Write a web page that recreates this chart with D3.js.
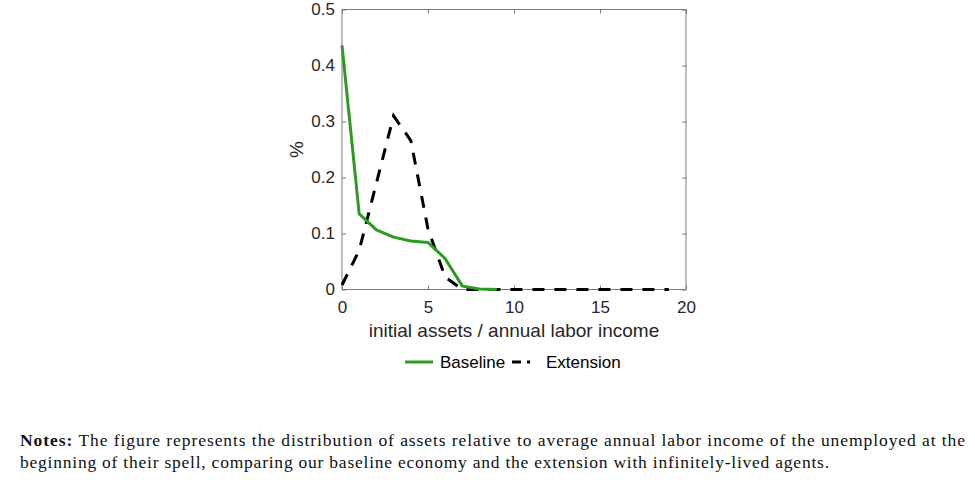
<!DOCTYPE html>
<html>
<head>
<meta charset="utf-8">
<script src="https://cdn.jsdelivr.net/npm/d3@7"></script>
<style>
    body { margin: 0; background: #fff; }
    svg { display: block; }
    .axis text { font-family: "Liberation Sans", Arial, sans-serif; font-size: 17px; fill: #262626; }
    .axis line { stroke: #7a7a7a; }
</style>
</head>
<body>
<svg id="chart" width="975" height="485"></svg>
<script>
// values
const baselineX = [0, 1, 2, 3, 4, 5, 6, 7, 8, 9]
const baselineY = [0.436, 0.135, 0.1065, 0.0935, 0.0865, 0.084, 0.055, 0.006, 0.001, 0]
const extensionX = [0, 1, 2, 3, 4, 5, 6, 7, 8, 9, 10, 11, 12, 13, 14, 15, 16, 17, 18, 19]
const extensionY = [0.008, 0.07, 0.19, 0.31, 0.266, 0.108, 0.022, 0, 0, 0, 0, 0, 0, 0, 0, 0, 0, 0, 0, 0]
const xTicks = [0, 5, 10, 15, 20]
const yTicks = [0, 0.1, 0.2, 0.3, 0.4, 0.5]
const seriesNames = ["Baseline", "Extension"]
const notesLines = [
    "The figure represents the distribution of assets relative to average annual labor income of the unemployed at the",
    "beginning of their spell, comparing our baseline economy and the extension with infinitely-lived agents."
]

const svg = d3.select("#chart")
const box = { left: 342, top: 9.5, right: 686, bottom: 289.5 }
const green = "#2e9a24"

const scX = d3.scaleLinear().domain([0, 20]).range([box.left, box.right])
const scY = d3.scaleLinear().domain([0, 0.5]).range([box.bottom, box.top])

// Axis logic, MATLAB style box with inward ticks on all sides
svg.append("g").attr("class", "axis")
    .attr("transform", `translate(0,${box.bottom})`)
    .call(d3.axisBottom(scX).tickValues(xTicks).tickSize(-4).tickSizeOuter(0).tickPadding(11).tickFormat(d3.format("d")))
svg.append("g").attr("class", "axis")
    .attr("transform", `translate(0,${box.top})`)
    .call(d3.axisTop(scX).tickValues(xTicks).tickSize(-4).tickSizeOuter(0).tickFormat(""))
svg.append("g").attr("class", "axis")
    .attr("transform", `translate(${box.left},0)`)
    .call(d3.axisLeft(scY).tickValues(yTicks).tickSize(-4).tickSizeOuter(0).tickPadding(7).tickFormat(d => d == 0 ? "0" : d3.format(".1f")(d)))
svg.append("g").attr("class", "axis")
    .attr("transform", `translate(${box.right},0)`)
    .call(d3.axisRight(scY).tickValues(yTicks).tickSize(-4).tickSizeOuter(0).tickFormat(""))
svg.selectAll(".axis .domain").remove()

svg.append("rect")
    .attr("x", box.left).attr("y", box.top)
    .attr("width", box.right - box.left).attr("height", box.bottom - box.top)
    .attr("fill", "none").attr("stroke", "#7a7a7a").attr("stroke-width", 1)

// Line logic
const lnMkr = d3.line().x(d => scX(d[0])).y(d => scY(d[1]))
const plot = svg.append("g")

plot.append("path")
    .datum(extensionX.map((x, i) => [x, extensionY[i]]))
    .attr("fill", "none").attr("stroke", "#000").attr("stroke-width", 3)
    .attr("stroke-dasharray", "12,10")
    .attr("d", lnMkr)

plot.append("path")
    .datum(baselineX.map((x, i) => [x, baselineY[i]]))
    .attr("fill", "none").attr("stroke", green).attr("stroke-width", 3)
    .attr("stroke-linejoin", "round")
    .attr("d", lnMkr)

// Axis labels
const labelFont = "'Liberation Sans', Arial, sans-serif"
svg.append("text")
    .attr("x", (box.left + box.right) / 2).attr("y", 337)
    .attr("text-anchor", "middle")
    .attr("font-family", labelFont).attr("font-size", 19).attr("fill", "#262626")
    .text("initial assets / annual labor income")
svg.append("text")
    .attr("transform", `translate(303,${(box.top + box.bottom) / 2}) rotate(-90)`)
    .attr("text-anchor", "middle")
    .attr("font-family", labelFont).attr("font-size", 19).attr("fill", "#262626")
    .text("%")

// Legend
const legend = svg.append("g").attr("transform", "translate(0,362)")
legend.append("line")
    .attr("x1", 405).attr("x2", 433).attr("y1", 0).attr("y2", 0)
    .attr("stroke", green).attr("stroke-width", 3)
legend.append("text")
    .attr("x", 440).attr("y", 6)
    .attr("font-family", labelFont).attr("font-size", 17).attr("fill", "#000")
    .text(seriesNames[0])
legend.append("line")
    .attr("x1", 512).attr("x2", 539).attr("y1", 0).attr("y2", 0)
    .attr("stroke", "#000").attr("stroke-width", 3)
    .attr("stroke-dasharray", "9,6,3,20")
legend.append("text")
    .attr("x", 546).attr("y", 6)
    .attr("font-family", labelFont).attr("font-size", 17).attr("fill", "#000")
    .text(seriesNames[1])

// Notes below the figure
const notes = svg.append("g")
    .attr("font-family", "'Liberation Serif', 'DejaVu Serif', serif")
    .attr("font-size", 17.5).attr("fill", "#111")
const first = notes.append("text").attr("x", 20).attr("y", 446)
    .attr("textLength", 945).attr("lengthAdjust", "spacing")
first.append("tspan").attr("font-weight", "bold").text("Notes: ")
first.append("tspan").text(notesLines[0])
notes.append("text").attr("x", 20).attr("y", 468)
    .attr("textLength", 809).attr("lengthAdjust", "spacing")
    .text(notesLines[1])
</script>
</body>
</html>
